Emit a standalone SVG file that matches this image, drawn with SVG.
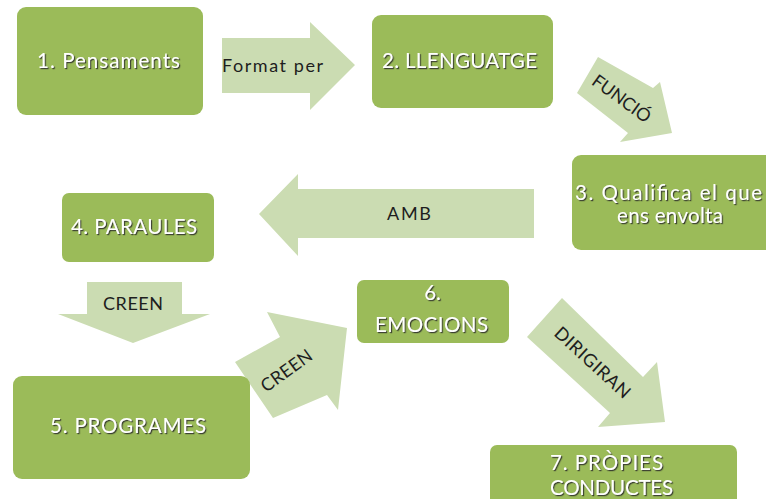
<svg xmlns="http://www.w3.org/2000/svg" width="766" height="499" viewBox="0 0 766 499">
<defs>
<filter id="sh" x="-10%" y="-30%" width="130%" height="170%">
<feDropShadow dx="1.2" dy="1.2" stdDeviation="0.6" flood-color="#2b2b2b" flood-opacity="0.85"/>
</filter>
</defs>
<style>
.node{fill:#9bbb59}
.arrow{fill:#cbdcb2}
.nt{font-family:Lato,"Liberation Sans",sans-serif;font-size:20.5px;fill:#ffffff;text-anchor:middle;filter:url(#sh)}
.at{font-family:Lato,"Liberation Sans",sans-serif;font-size:18px;fill:#1e1e1e;text-anchor:middle}
</style>
<rect width="766" height="499" fill="#ffffff"/>
<g id="connectors">
<g id="c1">
<polygon class="arrow" points="222,38 310,38 310,22 355,65 310,110 310,93 222,93"/>
<text class="at" x="272.5" y="72" textLength="101" lengthAdjust="spacing">Format per</text>
</g>
<g id="c2">
<polygon class="arrow" points="598,57 653,88 660,82 672,133 620,142 628,133 577,93"/>
<text class="at" x="0" y="0" font-size="16" dominant-baseline="central" textLength="68" lengthAdjust="spacing" transform="translate(622,98) rotate(36)">FUNCIÓ</text>
</g>
<g id="c3">
<polygon class="arrow" points="534,189 298,189 298,174 259,214 298,256 298,238 534,238"/>
<text class="at" x="409" y="220" font-size="17" textLength="44" lengthAdjust="spacing">AMB</text>
</g>
<g id="c4">
<polygon class="arrow" points="87,282 182,282 182,314 210,314 133,343 58,314 87,314"/>
<text class="at" x="133" y="310" textLength="60" lengthAdjust="spacing">CREEN</text>
</g>
<g id="c5">
<polygon class="arrow" points="235,362 280,337 267,312 347,328 338,410 327,395 273,418"/>
<text class="at" x="0" y="0" dominant-baseline="central" textLength="59" lengthAdjust="spacing" transform="translate(286,370) rotate(-36)">CREEN</text>
</g>
<g id="c6">
<polygon class="arrow" points="562,298 643,377 657,362 665,422 598,427 610,413 527,337"/>
<text class="at" x="0" y="0" dominant-baseline="central" textLength="96" lengthAdjust="spacing" transform="translate(593,362) rotate(42.5)">DIRIGIRAN</text>
</g>
</g>
<g id="n1">
<rect class="node" x="17" y="7" width="186" height="108" rx="9"/>
<text class="nt" x="108.5" y="68" textLength="143" lengthAdjust="spacing">1. Pensaments</text>
</g>
<g id="n2">
<rect class="node" x="372" y="15" width="181" height="93" rx="9"/>
<text class="nt" x="459.5" y="68" textLength="155" lengthAdjust="spacing">2. LLENGUATGE</text>
</g>
<g id="n3">
<rect class="node" x="572" y="155" width="214" height="95" rx="9"/>
<text class="nt" x="668.5" y="200" textLength="187" lengthAdjust="spacing">3. Qualifica el que</text>
<text class="nt" x="670" y="223" textLength="106" lengthAdjust="spacing">ens envolta</text>
</g>
<g id="n4">
<rect class="node" x="62" y="193" width="152" height="69" rx="7"/>
<text class="nt" x="134" y="234" textLength="126" lengthAdjust="spacing">4. PARAULES</text>
</g>
<g id="n5">
<rect class="node" x="13" y="376" width="237" height="103" rx="9"/>
<text class="nt" x="128" y="433" textLength="156" lengthAdjust="spacing">5. PROGRAMES</text>
</g>
<g id="n6">
<rect class="node" x="357" y="280" width="152" height="63" rx="7"/>
<text class="nt" x="432.5" y="300">6.</text>
<text class="nt" x="431.5" y="332" textLength="113" lengthAdjust="spacing">EMOCIONS</text>
</g>
<g id="n7">
<rect class="node" x="490" y="445" width="247" height="62" rx="7"/>
<text class="nt" x="606.5" y="470" textLength="113" lengthAdjust="spacing">7. PRÒPIES</text>
<text class="nt" x="611.5" y="495" textLength="123" lengthAdjust="spacing">CONDUCTES</text>
</g>
</svg>
